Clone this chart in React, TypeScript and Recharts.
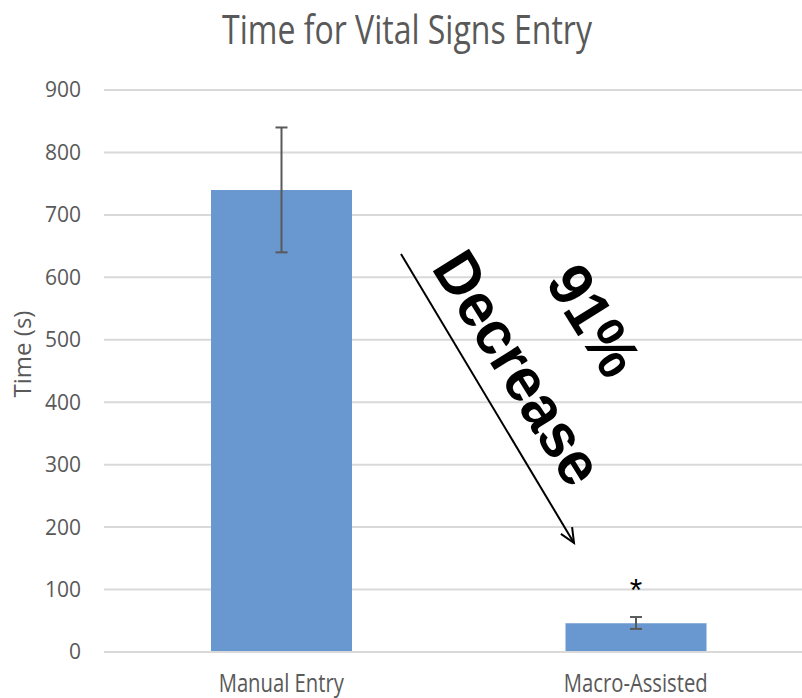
import * as React from "react";
import {
  Bar,
  BarChart,
  CartesianGrid,
  Customized,
  ErrorBar,
  LabelList,
  XAxis,
  YAxis,
} from "recharts";

// Values.
const CATEGORIES = ["Manual Entry", "Macro-Assisted"];
const TIMES = [740, 46];
const ERRORS: [number, number][] = [
  [100, 100],
  [9, 10],
];
const MARKS = ["", "*"];
const Y_TICKS = [0, 100, 200, 300, 400, 500, 600, 700, 800, 900];

const TEXT = "#595959";
const GRID = "#d9d9d9";
const BAR = "#6898cf";
const FONT = "'Open Sans', sans-serif";

const data = CATEGORIES.map((name, i) => ({
  name,
  time: TIMES[i],
  err: ERRORS[i],
  mark: MARKS[i],
}));

// The reference is stretched vertically, so the text is drawn tall and narrow.
function XTick({ x, y, payload }: { x?: number; y?: number; payload?: { value: string } }) {
  return (
    <g transform={`translate(${String(x)},${String((y ?? 0) + 17)}) scale(0.81,1)`}>
      <text textAnchor="middle" fontSize={25} fontFamily={FONT} fill={TEXT}>
        {payload?.value}
      </text>
    </g>
  );
}

function Annotation() {
  // arrow from the tall bar down to the short one
  const x1 = 401;
  const y1 = 254;
  const x2 = 574;
  const y2 = 543;
  const ang = Math.atan2(y2 - y1, x2 - x1);
  const head = 16;
  const spread = 0.42;
  const a = [x2 - head * Math.cos(ang - spread), y2 - head * Math.sin(ang - spread)];
  const b = [x2 - head * Math.cos(ang + spread), y2 - head * Math.sin(ang + spread)];
  return (
    <g>
      <g transform="translate(407,44) scale(0.8,1)">
        <text textAnchor="middle" fontSize={40} fontFamily={FONT} fill={TEXT}>
          Time for Vital Signs Entry
        </text>
      </g>
      <g transform="translate(31,354) rotate(-90)">
        <text textAnchor="middle" fontSize={24} fontFamily={FONT} fill={TEXT}>
          Time (s)
        </text>
      </g>
      <line x1={x1} y1={y1} x2={x2} y2={y2} stroke="#000" strokeWidth={2} />
      <polyline
        points={`${a.join(",")} ${String(x2)},${String(y2)} ${b.join(",")}`}
        fill="none"
        stroke="#000"
        strokeWidth={2}
      />
      <g transform="translate(518,368) rotate(58) scale(0.95,1)">
        <text
          textAnchor="middle"
          y={21}
          fontSize={62}
          fontWeight="bold"
          fontFamily="'Liberation Sans', Arial, sans-serif"
          fill="#000"
        >
          Decrease
        </text>
        <text
          textAnchor="middle"
          y={21 - 89}
          fontSize={62}
          fontWeight="bold"
          fontFamily="'Liberation Sans', Arial, sans-serif"
          fill="#000"
        >
          91%
        </text>
      </g>
    </g>
  );
}

export default function App() {
  return (
    <div
      style={{
        position: "absolute",
        left: 0,
        top: 0,
        width: 802,
        height: 698,
        overflow: "hidden",
        background: "#fff",
      }}
    >
      <BarChart
        width={813}
        height={698}
        data={data}
        margin={{ top: 90, right: 0, bottom: 0, left: 0 }}
      >
        <CartesianGrid vertical={false} stroke={GRID} strokeWidth={2} />
        <XAxis
          dataKey="name"
          height={46}
          tickLine={false}
          axisLine={{ stroke: GRID, strokeWidth: 2 }}
          tickMargin={17}
          tick={<XTick />}
        />
        <YAxis
          width={104}
          domain={[0, 900]}
          ticks={Y_TICKS}
          axisLine={false}
          tickLine={false}
          tickMargin={17}
          tick={{ fontSize: 21, fontFamily: FONT, fill: TEXT }}
        />
        <Bar dataKey="time" fill={BAR} barSize={141} isAnimationActive={false}>
          <ErrorBar
            dataKey="err"
            direction="y"
            width={6}
            stroke={TEXT}
            strokeWidth={2}
            isAnimationActive={false}
          />
          <LabelList
            dataKey="mark"
            position="top"
            offset={22}
            fill="#000"
            fontSize={32}
            fontFamily="'Liberation Sans', Arial, sans-serif"
          />
        </Bar>
        <Customized component={Annotation} />
      </BarChart>
    </div>
  );
}
